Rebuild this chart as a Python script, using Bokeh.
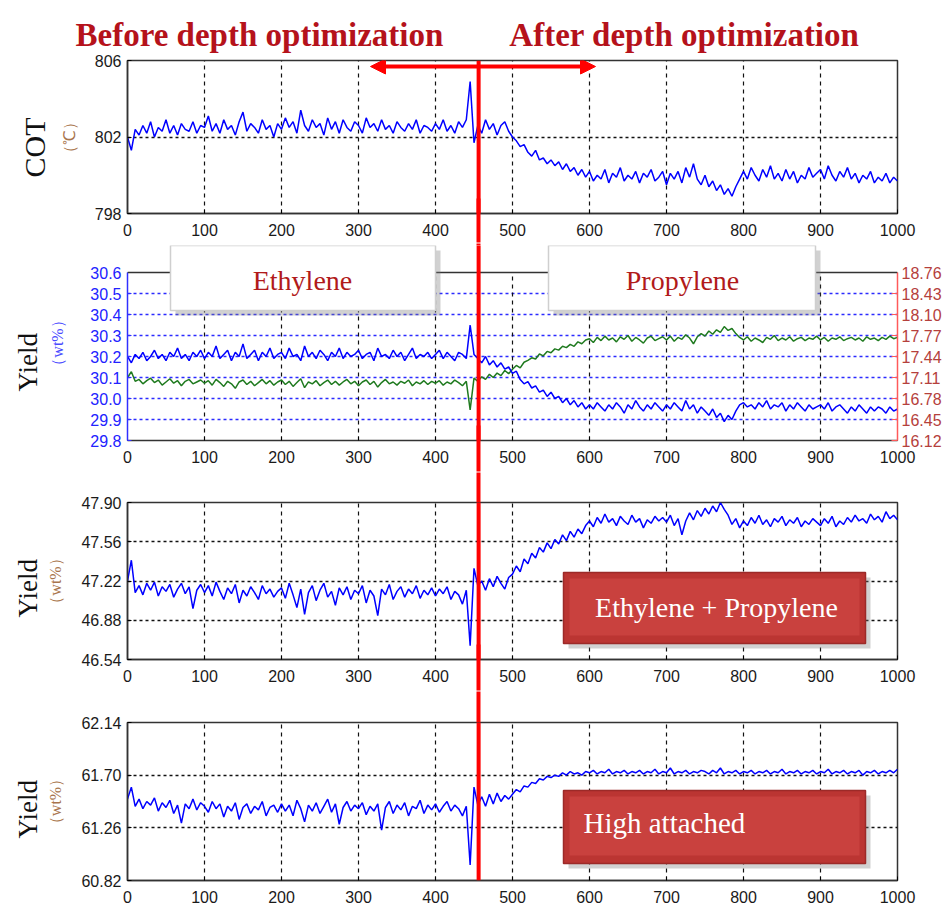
import math
from bokeh.plotting import figure
from bokeh.layouts import column
from bokeh.models import (Range1d, LinearAxis, FixedTicker, NumeralTickFormatter,
                          Label, Arrow, NormalHead, BoxAnnotation, Span, Title)
from bokeh.embed import file_html
from bokeh.resources import INLINE

# ---------------- data (every 5 samples) ----------------
x_ticks = [0, 100, 200, 300, 400, 500, 600, 700, 800, 900, 1000]

cot = [
    802.0, 801.3, 802.4, 802.1, 802.6, 802.2, 802.8, 802.0, 802.5, 802.3, 802.9, 802.2, 802.6, 802.1, 802.7, 802.4, 802.3, 802.8, 802.2, 802.6,
    802.5, 803.1, 802.3, 802.7, 802.2, 802.9, 802.4, 802.6, 802.1, 802.8, 803.3, 802.3, 802.7, 802.5, 802.2, 802.9, 802.4, 802.6, 802.0, 802.7,
    802.4, 803.0, 802.5, 802.8, 802.2, 803.4, 802.6, 802.3, 802.9, 802.5, 802.7, 802.1, 803.0, 802.4, 802.8, 802.2, 802.9, 802.5, 802.3, 802.8,
    802.6, 802.2, 803.0, 802.5, 802.7, 802.3, 802.9, 802.4, 802.6, 802.2, 802.8, 802.5, 802.3, 802.7, 802.4, 802.9, 802.2, 802.6, 802.5, 802.3,
    802.7, 802.4, 802.9, 802.3, 802.6, 802.2, 802.8, 802.5, 802.9, 804.9, 801.7, 802.6, 802.2, 802.9, 802.4, 802.7, 802.1, 802.6, 802.8, 802.3,
    802.0, 801.8, 801.5, 801.6, 801.2, 801.0, 801.3, 800.8, 800.9, 800.6, 800.8, 800.5, 800.7, 800.3, 800.6, 800.2, 800.4, 800.0, 800.3, 799.9,
    800.2, 799.7, 800.0, 799.8, 800.3, 799.6, 800.1, 799.9, 800.4, 799.7, 800.0, 799.8, 800.2, 799.6, 800.1, 799.9, 800.3, 799.7, 799.9, 800.2,
    799.5, 800.1, 799.8, 800.2, 799.6, 800.4, 799.9, 800.6, 799.8, 799.5, 800.0, 799.4, 799.7, 799.2, 799.5, 799.0, 799.3, 798.9, 799.4, 799.8,
    800.2, 799.8, 800.4, 800.0, 799.7, 800.3, 799.9, 800.5, 799.8, 800.1, 799.7, 800.3, 799.8, 800.2, 799.6, 800.0, 799.8, 800.4, 799.9, 800.1,
    800.3, 799.8, 800.5, 800.0, 799.7, 800.2, 799.9, 800.4, 799.8, 800.1, 799.6, 800.0, 799.8, 800.2, 799.6, 799.9, 799.7, 800.1, 799.6, 799.9, 799.7,
]

ethylene = [
    30.20, 30.17, 30.21, 30.19, 30.22, 30.18, 30.20, 30.23, 30.19, 30.21, 30.18, 30.22, 30.20, 30.24, 30.19, 30.21, 30.18, 30.22, 30.20, 30.23,
    30.19, 30.22, 30.20, 30.25, 30.19, 30.21, 30.23, 30.18, 30.22, 30.20, 30.26, 30.19, 30.21, 30.23, 30.18, 30.22, 30.20, 30.24, 30.19, 30.21,
    30.22, 30.19, 30.24, 30.20, 30.21, 30.18, 30.25, 30.20, 30.22, 30.19, 30.23, 30.21, 30.18, 30.22, 30.20, 30.24, 30.19, 30.22, 30.20, 30.21,
    30.23, 30.19, 30.21, 30.22, 30.18, 30.24, 30.20, 30.21, 30.19, 30.23, 30.20, 30.22, 30.18, 30.21, 30.24, 30.19, 30.21, 30.20, 30.22, 30.19,
    30.21, 30.23, 30.19, 30.22, 30.20, 30.18, 30.22, 30.21, 30.19, 30.35, 30.21, 30.19, 30.17, 30.20, 30.16, 30.18, 30.15, 30.17, 30.14, 30.15,
    30.12, 30.13, 30.09, 30.07, 30.08, 30.05, 30.06, 30.03, 30.04, 30.01, 30.03, 30.00, 30.01, 29.98, 30.00, 29.97, 29.99, 29.96, 29.98, 29.95,
    29.97, 29.95, 29.98, 29.96, 29.94, 29.97, 29.95, 29.98, 29.96, 29.93, 29.97, 29.95, 29.99, 29.96, 29.94, 29.97, 29.95, 29.98, 29.96, 29.94,
    29.97, 29.95, 29.98, 29.96, 29.94, 29.99, 29.95, 29.97, 29.93, 29.96, 29.94, 29.92, 29.95, 29.91, 29.93, 29.89, 29.92, 29.90, 29.94, 29.97,
    29.98, 29.96, 29.97, 29.95, 29.98, 29.96, 29.99, 29.95, 29.97, 29.96, 29.98, 29.94, 29.97, 29.95, 29.98, 29.96, 29.94, 29.97, 29.95, 29.96,
    29.97, 29.95, 29.98, 29.94, 29.96, 29.97, 29.95, 29.93, 29.96, 29.94, 29.97, 29.95, 29.93, 29.96, 29.94, 29.96, 29.95, 29.93, 29.96, 29.94, 29.95,
]

propylene = [
    17.11, 17.20, 17.05, 17.08, 17.01, 17.06, 17.10, 17.03, 17.07, 16.99, 17.04, 17.09, 17.02, 17.06, 16.98, 17.05, 17.08, 17.01, 17.04, 17.07,
    17.02, 17.06, 16.99, 17.08, 17.03, 16.97, 17.05, 17.01, 16.94, 17.04, 17.07, 17.00, 17.05, 16.98, 17.03, 17.08, 17.01, 17.06, 16.99, 17.04,
    17.07, 17.00, 17.05, 16.97, 17.03, 17.09, 16.95, 17.04, 17.01, 17.06, 16.98, 17.03, 17.07, 17.00, 17.05, 16.99, 17.04, 17.08, 17.01, 17.05,
    16.98, 17.04, 17.07, 17.00, 17.05, 16.96, 17.03, 17.08, 17.01, 17.04, 16.99, 17.05, 17.02, 17.07, 16.98, 17.04, 17.01, 17.06, 17.00, 17.05,
    17.02, 17.06, 16.99, 17.04, 17.01, 17.07, 17.03, 16.98, 17.05, 16.60, 17.10, 17.05, 17.12, 17.08, 17.16, 17.11, 17.18, 17.14, 17.22, 17.17,
    17.24, 17.30, 17.26, 17.35, 17.38, 17.42, 17.40, 17.48, 17.45, 17.52, 17.50, 17.56, 17.54, 17.60, 17.58, 17.63, 17.60, 17.67, 17.64, 17.70,
    17.72, 17.66, 17.74, 17.69, 17.76, 17.70, 17.73, 17.67, 17.75, 17.71, 17.77, 17.68, 17.74, 17.70, 17.65, 17.73, 17.76, 17.69, 17.72, 17.75,
    17.70, 17.76, 17.68, 17.74, 17.71, 17.78, 17.73, 17.64, 17.75, 17.80, 17.76, 17.84, 17.79, 17.86, 17.82, 17.91, 17.85, 17.88, 17.80, 17.74,
    17.70, 17.75, 17.68, 17.73, 17.70, 17.66, 17.74, 17.71, 17.77, 17.69, 17.73, 17.70, 17.75, 17.68, 17.72, 17.74, 17.69, 17.73, 17.71, 17.76,
    17.70, 17.74, 17.68, 17.73, 17.71, 17.75, 17.69, 17.72, 17.74, 17.70, 17.73, 17.68, 17.75, 17.71, 17.73, 17.69, 17.74, 17.71, 17.76, 17.72, 17.74,
]

eth_prop = [
    47.22, 47.40, 47.12, 47.18, 47.10, 47.20, 47.14, 47.21, 47.09, 47.17, 47.13, 47.19, 47.08, 47.15, 47.20, 47.11, 47.17, 46.98, 47.14, 47.19,
    47.12, 47.18, 47.09, 47.21, 47.13, 47.06, 47.16, 47.11, 47.19, 47.03, 47.14, 47.09, 47.17, 47.12, 47.06, 47.18, 47.11, 47.15, 47.08, 47.13,
    47.16, 47.07, 47.20, 47.10, 46.99, 47.15, 46.93, 47.12, 47.18, 47.05, 47.14, 47.20, 47.08, 47.13, 47.01, 47.16, 47.10, 47.17, 47.06, 47.14,
    47.11, 47.18, 47.03, 47.14, 47.09, 46.92, 47.15, 47.10, 47.19, 47.06, 47.13, 47.17, 47.08, 47.15, 47.11, 47.18, 47.07, 47.14, 47.10, 47.16,
    47.09, 47.15, 47.11, 47.17, 47.06, 47.13, 47.10, 47.02, 47.14, 46.66, 47.33, 47.18, 47.22, 47.14, 47.24, 47.17, 47.26, 47.20, 47.15, 47.25,
    47.28, 47.35, 47.30, 47.41, 47.37, 47.46, 47.42, 47.51, 47.47, 47.55, 47.50, 47.58, 47.54, 47.62, 47.57, 47.65, 47.60, 47.67, 47.63, 47.70,
    47.74, 47.69, 47.77, 47.72, 47.80, 47.73, 47.76, 47.70, 47.78, 47.74, 47.71, 47.79, 47.73, 47.76, 47.68, 47.75, 47.72, 47.78, 47.74, 47.77,
    47.73, 47.79, 47.70, 47.76, 47.62, 47.74, 47.81, 47.75, 47.83, 47.78, 47.85, 47.80, 47.87, 47.82, 47.90, 47.84, 47.79, 47.71, 47.76, 47.68,
    47.74, 47.70, 47.77, 47.72, 47.79, 47.71, 47.75, 47.69, 47.76, 47.73, 47.78, 47.70, 47.75, 47.72, 47.77, 47.69, 47.74, 47.71, 47.76, 47.73,
    47.70, 47.76, 47.72, 47.78, 47.69, 47.74, 47.71, 47.77, 47.73, 47.79, 47.74, 47.76, 47.72, 47.80, 47.75, 47.78, 47.73, 47.82, 47.76, 47.79, 47.75,
]

high_attached = [
    61.50, 61.60, 61.44, 61.50, 61.42, 61.48, 61.45, 61.51, 61.40, 61.47, 61.43, 61.49, 61.38, 61.45, 61.30, 61.46, 61.42, 61.50, 61.41, 61.47,
    61.44, 61.39, 61.48, 61.42, 61.46, 61.35, 61.44, 61.40, 61.47, 61.33, 61.43, 61.46, 61.38, 61.44, 61.41, 61.48, 61.36, 61.43, 61.45, 61.39,
    61.46, 61.40, 61.45, 61.36, 61.49, 61.42, 61.31, 61.45, 61.40, 61.47, 61.38, 61.44, 61.50, 61.39, 61.46, 61.29, 61.43, 61.48, 61.40, 61.45,
    61.42, 61.47, 61.37, 61.44, 61.40, 61.46, 61.24, 61.43, 61.48, 61.38, 61.45, 61.41, 61.47, 61.36, 61.44, 61.42, 61.49, 61.38, 61.45, 61.41,
    61.46, 61.39, 61.44, 61.48, 61.40, 61.45, 61.42, 61.36, 61.44, 60.95, 61.60, 61.45, 61.52, 61.44, 61.54, 61.46, 61.55, 61.48, 61.53, 61.50,
    61.54, 61.58, 61.56, 61.61, 61.60, 61.64, 61.63, 61.67, 61.66, 61.69, 61.68, 61.70, 61.69, 61.72, 61.70, 61.73, 61.71, 61.72, 61.70, 61.73,
    61.72, 61.74, 61.71, 61.73, 61.72, 61.75, 61.71, 61.73, 61.72, 61.74, 61.71, 61.73, 61.72, 61.74, 61.71, 61.73, 61.72, 61.75, 61.71, 61.73,
    61.72, 61.76, 61.71, 61.73, 61.72, 61.74, 61.71, 61.73, 61.72, 61.74, 61.73, 61.71, 61.74, 61.72, 61.76, 61.71, 61.73, 61.72, 61.74, 61.71,
    61.73, 61.72, 61.74, 61.71, 61.73, 61.72, 61.74, 61.71, 61.73, 61.72, 61.75, 61.71, 61.73, 61.72, 61.74, 61.71, 61.73, 61.72, 61.74, 61.71,
    61.73, 61.72, 61.75, 61.71, 61.73, 61.72, 61.74, 61.71, 61.73, 61.72, 61.74, 61.70, 61.73, 61.72, 61.74, 61.71, 61.73, 61.72, 61.74, 61.72, 61.75,
]

cot_ticks = [798, 802, 806]
eth_ticks = [29.8, 29.9, 30.0, 30.1, 30.2, 30.3, 30.4, 30.5, 30.6]
prop_ticks = [16.12, 16.45, 16.78, 17.11, 17.44, 17.77, 18.10, 18.43, 18.76]
ep_ticks = [46.54, 46.88, 47.22, 47.56, 47.90]
ha_ticks = [60.82, 61.26, 61.70, 62.14]

titles = ["Before depth optimization", "After depth optimization"]
box_texts = ["Ethylene", "Propylene", "Ethylene + Propylene", "High attached"]
switch_x = 456  # sample where depth optimization starts

# ---------------- layout helpers ----------------
FL, FW = 127, 770   # frame left (px) and frame width (px)
TICK_FONT = "Liberation Sans"
SERIF = "Liberation Serif"
RED = "#ff0000"
XLAB_EXT = 26      # approx. extent of the x tick-label axis (standoff + text)


def xs(series):
    n = len(series)
    return [i * 1000.0 / (n - 1) for i in range(n)]


def xd(px):
    return (px - FL) / FW * 1000.0


class Panel:
    def __init__(self, lo, hi, top_border, frame_h, bottom_border, ticks, fmt, grid_ticks, hi_view=None):
        self.lo = lo
        self.hi = hi_view if hi_view is not None else hi
        self.fh = frame_h
        self.tb, self.bb = top_border, bottom_border
        p = figure(frame_width=FW, frame_height=frame_h,
                   x_range=Range1d(0, 1000), y_range=Range1d(lo, self.hi),
                   min_border_left=FL, min_border_right=945 - FL - FW,
                   min_border_top=top_border, min_border_bottom=bottom_border,
                   toolbar_location=None, output_backend="svg",
                   background_fill_color="white", border_fill_color="white")
        p.outline_line_color = "#333333"
        p.outline_line_width = 1.5
        xa = p.xaxis[0]
        xa.ticker = FixedTicker(ticks=x_ticks)
        xa.major_label_text_font = TICK_FONT
        xa.major_label_text_font_size = "16px"
        xa.major_label_text_color = "#1a1a1a"
        xa.major_label_standoff = 10
        xa.major_tick_in = 4
        xa.major_tick_out = 0
        xa.minor_tick_line_color = None
        xa.axis_line_color = "#333333"
        xa.axis_line_width = 1.5
        ya = p.yaxis[0]
        ya.ticker = FixedTicker(ticks=ticks)
        ya.formatter = NumeralTickFormatter(format=fmt)
        ya.major_label_text_font = TICK_FONT
        ya.major_label_text_font_size = "16px"
        ya.major_label_text_color = "#1a1a1a"
        ya.major_label_standoff = 6
        ya.major_tick_in = 4
        ya.major_tick_out = 0
        ya.minor_tick_line_color = None
        ya.axis_line_color = "#333333"
        ya.axis_line_width = 1.5
        ya.bounds = (lo, hi)
        p.xgrid.ticker = FixedTicker(ticks=x_ticks[1:-1])
        p.xgrid.grid_line_color = "#111111"
        p.xgrid.grid_line_dash = "4 4"
        p.xgrid.grid_line_width = 1.2
        p.ygrid.ticker = FixedTicker(ticks=grid_ticks)
        p.ygrid.grid_line_color = "#111111"
        p.ygrid.grid_line_dash = "3 3"
        p.ygrid.grid_line_width = 1.5
        p.add_layout(Span(location=switch_x, dimension="height", line_color=RED,
                          line_width=4, level="overlay"))
        self.p = p

    def yd(self, py):
        # py: pixel offset from this figure's frame top
        return self.hi - py / self.fh * (self.hi - self.lo)

    def side_labels(self, main, main_size, s_main, off_main, unit, unit_color, s_unit):
        ya = self.p.yaxis[0]
        ya.axis_label = unit
        ya.axis_label_text_font = SERIF
        ya.axis_label_text_font_size = "16px"
        ya.axis_label_text_font_style = "normal"
        ya.axis_label_text_color = unit_color
        ya.axis_label_standoff = s_unit
        self.p.add_layout(Title(text=main, align="left", offset=off_main, standoff=s_main,
                                text_font=SERIF, text_font_size=main_size, text_font_style="normal",
                                text_color="#111111"), "left")

    def _red_axis(self, loc, tick_in, tick_out):
        # the switch line crossing the margins: a red minor tick (no label)
        a = LinearAxis(ticker=FixedTicker(ticks=[], minor_ticks=[switch_x]),
                       axis_line_color=None, major_tick_line_color=None,
                       major_tick_in=0, major_tick_out=0, major_label_standoff=0,
                       minor_tick_in=tick_in, minor_tick_out=tick_out,
                       minor_tick_line_color=RED, minor_tick_line_width=4)
        self.p.add_layout(a, loc)

    def red_below(self):
        self._red_axis("below", 40, self.bb - XLAB_EXT)

    def red_above(self):
        self._red_axis("above", 0, self.tb)

    def box(self, px0, px1, py0, py1, fill, line, inner=None):
        self.p.add_layout(BoxAnnotation(left=xd(px0 + 5), right=xd(px1 + 5),
                                        top=self.yd(py0 + 5), bottom=self.yd(py1 + 5),
                                        fill_color="#7a7a7a", fill_alpha=0.35,
                                        line_color=None, level="overlay"))
        self.p.add_layout(BoxAnnotation(left=xd(px0), right=xd(px1),
                                        top=self.yd(py0), bottom=self.yd(py1),
                                        fill_color=fill, fill_alpha=1.0,
                                        line_color=line, line_width=1.5, line_alpha=1.0,
                                        level="overlay"))
        if inner is not None:
            self.p.add_layout(BoxAnnotation(left=xd(px0 + 6), right=xd(px1 - 6),
                                            top=self.yd(py0 + 6), bottom=self.yd(py1 - 8),
                                            fill_color=inner, fill_alpha=1.0,
                                            line_color=None, level="overlay"))

    def text(self, px, py, txt, color, size, align="center"):
        self.p.add_layout(Label(x=xd(px), y=self.yd(py), text=txt,
                                text_align=align, text_baseline="middle",
                                text_font=SERIF, text_font_size=size, text_color=color,
                                level="overlay"))


def line_series(p, series, color, **kw):
    p.line(xs(series), series, line_color=color, line_width=1.5, **kw)


# ---------------- panel 1: COT ----------------
P1 = Panel(798, 806, 60, 153, 30, cot_ticks, "0", [802])
p1 = P1.p
line_series(p1, cot, "#0000ff")
P1.side_labels("COT", "30px", 14, 36, "\uff08\u2103\uff09", "#a8744c", 14)
P1.red_below()
p1.add_layout(Title(text=titles[0] + "\u00a0" * 8 + titles[1], align="left", offset=-52,
                    text_font=SERIF, text_font_size="33px", text_font_style="bold",
                    text_color="#b5121b", standoff=15), "above")
p1.add_layout(Arrow(start=NormalHead(size=15, fill_color=RED, line_color=RED),
                    end=NormalHead(size=15, fill_color=RED, line_color=RED),
                    x_start=xd(370), x_end=xd(595), y_start=P1.yd(6), y_end=P1.yd(6),
                    line_color=RED, line_width=4))

# ---------------- panel 2: Ethylene / Propylene ----------------
EXT = 27.0 / 168.0  # view extends above the axis top to hold the label boxes
P2 = Panel(29.8, 30.6, 2, 195, 32, eth_ticks, "0.0", eth_ticks[1:-1],
           hi_view=30.6 + EXT * 0.8)
p2 = P2.p
p2.outline_line_color = None
p2.xgrid.visible = False
p2.segment(x0=x_ticks[1:-1], y0=[29.8] * 9, x1=x_ticks[1:-1], y1=[30.6] * 9,
           line_color="#111111", line_dash="4 4", line_width=1.2)
p2.add_layout(Span(location=30.6, dimension="width", line_color="#333333", line_width=1.5))
p2.ygrid.grid_line_color = "#2b2bff"
p2.ygrid.grid_line_dash = "3 3"
p2.yaxis[0].axis_line_color = "#3030ff"
p2.yaxis[0].major_tick_line_color = "#3030ff"
p2.yaxis[0].major_label_text_color = "#2222ff"
p2.extra_y_ranges = {"prop": Range1d(16.12, 18.76 + EXT * 2.64)}
ra = LinearAxis(y_range_name="prop", ticker=FixedTicker(ticks=prop_ticks),
                formatter=NumeralTickFormatter(format="0.00"), bounds=(16.12, 18.76))
ra.major_label_text_font = TICK_FONT
ra.major_label_text_font_size = "16px"
ra.major_label_text_color = "#b5403c"
ra.major_label_standoff = 4
ra.axis_line_color = "#ff5a5a"
ra.axis_line_width = 1.5
ra.major_tick_line_color = "#ff5a5a"
ra.major_tick_in = 6
ra.major_tick_out = 0
ra.minor_tick_line_color = None
p2.add_layout(ra, "right")
line_series(p2, propylene, "#1f7a1f", y_range_name="prop")
line_series(p2, ethylene, "#0000ff")
P2.side_labels("Yield", "27px", 7, 49, "\uff08wt%\uff09", "#4a4aff", 21)
P2.red_above()
P2.red_below()
P2.box(170, 435, 0, 65, "#ffffff", "#cfcfcf")
P2.box(548, 815, 0, 65, "#ffffff", "#cfcfcf")
P2.text(302, 35, box_texts[0], "#b11a1a", "28px")
P2.text(682, 35, box_texts[1], "#b11a1a", "28px")

# ---------------- panel 3: Ethylene + Propylene ----------------
P3 = Panel(46.54, 47.90, 30, 157, 32, ep_ticks, "0.00", ep_ticks[1:-1])
p3 = P3.p
line_series(p3, eth_prop, "#0000ff")
P3.side_labels("Yield", "27px", 4, 42, "\uff08wt%\uff09", "#a8744c", 14)
P3.red_above()
P3.red_below()
P3.box(563, 865, 70, 141, "#bb3532", "#9c2a28", inner="#c9413e")
P3.text(716, 105, box_texts[2], "#ffffff", "28px")

# ---------------- panel 4: High attached ----------------
P4 = Panel(60.82, 62.14, 31, 158, 29, ha_ticks, "0.00", ha_ticks[1:-1])
p4 = P4.p
line_series(p4, high_attached, "#0000ff")
P4.side_labels("Yield", "27px", 4, 42, "\uff08wt%\uff09", "#a8744c", 14)
P4.red_above()
P4.box(563, 865, 68, 141, "#bb3532", "#9c2a28", inner="#c9413e")
P4.text(583, 100, box_texts[3], "#ffffff", "29px", align="left")

layout = column(p1, p2, p3, p4, spacing=0)
open("out.html", "w").write(file_html(layout, INLINE))
